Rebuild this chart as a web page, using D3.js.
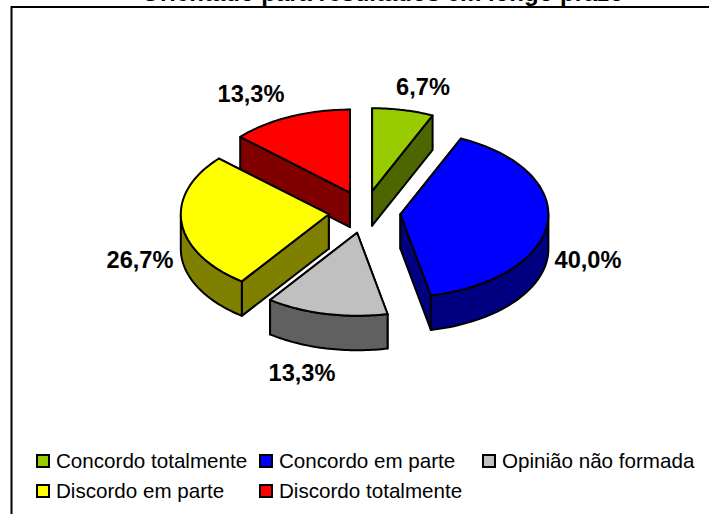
<!DOCTYPE html>
<html>
<head>
<meta charset="utf-8">
<script src="https://d3js.org/d3.v7.min.js"></script>
<style>
  body { margin: 0; background: #fff; }
  svg { display: block; }
  text { font-family: "Liberation Sans", Arial, sans-serif; fill: #000; }
</style>
</head>
<body>
<svg id="chart" width="709" height="514"></svg>
<script>
const categories = ["Concordo totalmente", "Concordo em parte", "Opinião não formada", "Discordo em parte", "Discordo totalmente"];
const values = [6.7, 40.0, 13.3, 26.7, 13.3];
const labels = ["6,7%", "40,0%", "13,3%", "26,7%", "13,3%"];
const topColors = ["#99cc00", "#0000ff", "#c0c0c0", "#ffff00", "#ff0000"];
const sideColors = ["#4d6600", "#000080", "#606060", "#808000", "#800000"];

const cx = 364.6, cy = 212, rx = 148, ry = 83, depth = 34.5, explode = 36, explodeY = 0.59;

const svg = d3.select("#chart");

// title is cut off by the top of the page in the original
svg.append("text")
  .attr("x", 624).attr("y", 0.5)
  .attr("text-anchor", "end")
  .style("font-size", "24px").style("font-weight", "bold")
  .text("Orientado para resultados em longo prazo");

// only the top and left edges of the frame show, the rest runs off the page
svg.append("rect")
  .attr("x", 11.5).attr("y", 7).attr("width", 800).attr("height", 600)
  .attr("fill", "none").attr("stroke", "#000").attr("stroke-width", 2);

const arcs = d3.pie().sort(null).value(d => d)(values);
const sliceData = arcs.map((a, i) => {
  const mid = (a.startAngle + a.endAngle) / 2;
  return {
    i: i,
    a0: a.startAngle,
    a1: a.endAngle,
    ox: cx + explode * Math.sin(mid),
    oy: cy - explode * explodeY * Math.cos(mid)
  };
});

const rimPoints = (d, a0, a1, dy) =>
  d3.range(0, 41).map(k => {
    const t = a0 + (a1 - a0) * k / 40;
    return [d.ox + rx * Math.sin(t), d.oy - ry * Math.cos(t) + dy];
  });

const line = d3.line();

// back slices first so the front ones cover them
const slices = svg.selectAll("g.slice")
  .data(sliceData.slice().sort((p, q) => d3.ascending(p.oy, q.oy)))
  .enter().append("g").attr("class", "slice")
  .attr("stroke", "#000").attr("stroke-width", 2).attr("stroke-linejoin", "round");

slices.each(function(d) {
  const g = d3.select(this);
  // back wall first, the wall nearer the viewer goes over it
  const walls = [d.a0, d.a1].map(a => rimPoints(d, a, a, 0)[0]).sort((p, q) => d3.ascending(p[1], q[1]));
  walls.forEach(p => {
    g.append("path")
      .attr("fill", sideColors[d.i])
      .attr("d", line([[d.ox, d.oy], p, [p[0], p[1] + depth], [d.ox, d.oy + depth]]) + "Z");
  });
  // outer wall only shows on the lower half of the ellipse
  const lo = Math.max(d.a0, Math.PI / 2), hi = Math.min(d.a1, 3 * Math.PI / 2);
  if (lo < hi) {
    g.append("path")
      .attr("fill", sideColors[d.i])
      .attr("d", line(rimPoints(d, lo, hi, 0).concat(rimPoints(d, lo, hi, depth).reverse())) + "Z");
  }
  g.append("path")
    .attr("fill", topColors[d.i])
    .attr("d", line([[d.ox, d.oy]].concat(rimPoints(d, d.a0, d.a1, 0))) + "Z");
});

const labelPos = [[423, 95], [588, 268], [302, 381], [140, 268], [251, 102]];
svg.selectAll("text.pct")
  .data(labels)
  .enter().append("text").attr("class", "pct")
  .attr("x", (d, i) => labelPos[i][0])
  .attr("y", (d, i) => labelPos[i][1])
  .attr("text-anchor", "middle")
  .style("font-size", "23.6px").style("font-weight", "bold")
  .text(d => d);

const legendPos = [[37, 461], [260, 461], [483, 461], [37, 491], [260, 491]];
const legend = svg.selectAll("g.legend")
  .data(categories)
  .enter().append("g").attr("class", "legend")
  .attr("transform", (d, i) => `translate(${legendPos[i][0]},${legendPos[i][1]})`);

legend.append("rect")
  .attr("x", 0).attr("y", -6).attr("width", 12).attr("height", 12)
  .attr("fill", (d, i) => topColors[i])
  .attr("stroke", "#000").attr("stroke-width", 2);

legend.append("text")
  .attr("x", 19).attr("y", 7)
  .style("font-size", "20.6px")
  .text(d => d);
</script>
</body>
</html>
